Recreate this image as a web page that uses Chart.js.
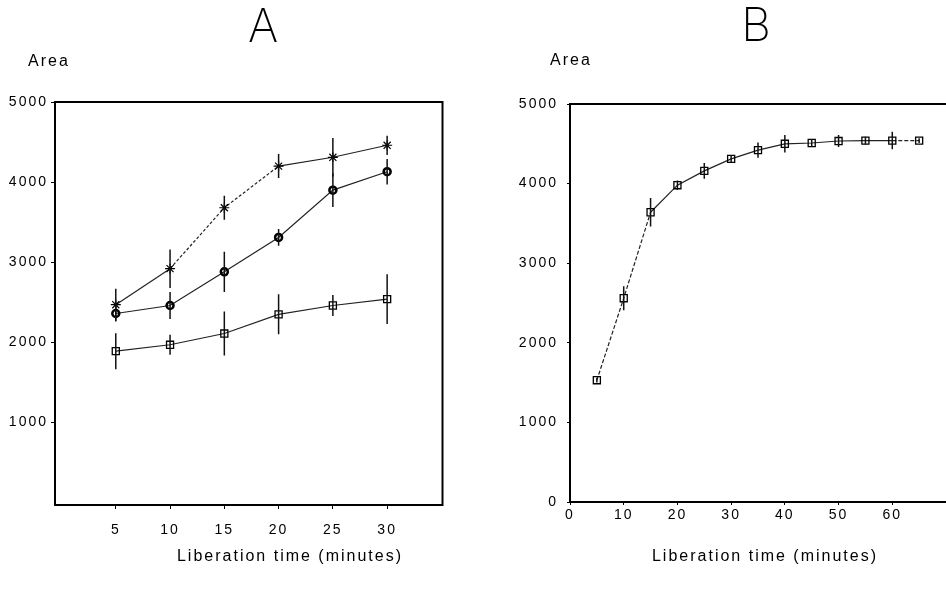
<!DOCTYPE html>
<html>
<head>
<meta charset="utf-8">
<script src="https://cdn.jsdelivr.net/npm/chart.js@4.4.1/dist/chart.umd.min.js"></script>
<style>
  body { margin: 0; background: #fff; }
  #wrap { position: relative; width: 946px; height: 594px; overflow: hidden; }
  #boxA { position: absolute; left: 0; top: 0; }
  #boxB { position: absolute; left: 480px; top: 0; }
</style>
</head>
<body>
<div id="wrap">
  <div id="boxA"><canvas id="chartA" width="480" height="594"></canvas></div>
  <div id="boxB"><canvas id="chartB" width="466" height="594"></canvas></div>
</div>
<script>
// panel A - three series with error bars
const timesA = [5, 10, 15, 20, 25, 30];
const starA = [2470, 2920, 3680, 4200, 4310, 4460];
const starErrA = [200, 240, 150, 150, 240, 120];
const circleA = [2360, 2460, 2880, 3310, 3900, 4130];
const circleErrA = [100, 170, 250, 105, 210, 160];
const squareA = [1890, 1970, 2110, 2350, 2460, 2540];
const squareErrA = [225, 125, 275, 250, 130, 310];
const xTicksA = [5, 10, 15, 20, 25, 30];
const yTicksA = [1000, 2000, 3000, 4000, 5000];

// panel B - one series
const timesB = [5, 10, 15, 20, 25, 30, 35, 40, 45, 50, 55, 60, 65];
const areaB = [1530, 2560, 3640, 3980, 4160, 4310, 4420, 4500, 4510, 4535, 4540, 4540, 4540];
const areaErrB = [30, 150, 180, 60, 100, 50, 95, 110, 50, 75, 50, 110, 30];
const xTicksB = [0, 10, 20, 30, 40, 50, 60];
const yTicksB = [0, 1000, 2000, 3000, 4000, 5000];

function points(xs, ys) {
  return xs.map((x, i) => ({ x: x, y: ys[i] }));
}

// vertical bars: low, high, then a gap so the line breaks
function errorBars(xs, ys, errs) {
  const out = [];
  xs.forEach((x, i) => {
    out.push({ x: x, y: ys[i] - errs[i] }, { x: x, y: ys[i] + errs[i] }, { x: x, y: null });
  });
  return out;
}

const font = { family: '"Liberation Sans", Arial, sans-serif', size: 14 };

const paper = {
  id: 'paper',
  beforeDraw(chart) {
    chart.ctx.letterSpacing = '2px';
  },
  beforeDatasetsDraw(chart, args, opts) {
    const { ctx, chartArea: a } = chart;
    ctx.save();
    ctx.strokeStyle = '#000';
    ctx.lineWidth = 2;
    ctx.beginPath();
    ctx.moveTo(a.left - 1, a.top);
    ctx.lineTo(a.right, a.top);
    if (opts.rightEdge) {
      ctx.moveTo(a.right, a.top - 1);
      ctx.lineTo(a.right, a.bottom + 1);
    }
    ctx.stroke();
    ctx.restore();
  },
  afterDraw(chart, args, opts) {
    const ctx = chart.ctx;
    ctx.save();
    ctx.fillStyle = '#000';
    ctx.letterSpacing = '0px';
    ctx.textAlign = 'center';
    ctx.textBaseline = 'middle';
    ctx.font = '200 46px Inter, "Liberation Sans", sans-serif';
    ctx.fillText(opts.panel, opts.panelX, opts.panelY);

    ctx.letterSpacing = '2px';
    ctx.font = '16px "Liberation Sans", Arial, sans-serif';
    ctx.textAlign = 'left';
    ctx.textBaseline = 'alphabetic';
    ctx.fillText(opts.yTitle, opts.yTitleX, opts.yTitleY);

    ctx.textAlign = 'center';
    ctx.textBaseline = 'middle';
    ctx.fillText(opts.xTitle, opts.xTitleX, opts.xTitleY);
    ctx.restore();
  }
};

const errStyle = {
  borderColor: '#111',
  borderWidth: 1.5,
  pointRadius: 0,
  spanGaps: false,
  order: 0
};

function seriesStyle(pointStyle, radius, bw) {
  return {
    borderColor: '#222',
    borderWidth: 1.2,
    pointStyle: pointStyle,
    pointRadius: radius,
    pointBorderWidth: bw,
    pointBorderColor: '#000',
    pointBackgroundColor: 'rgba(0,0,0,0)',
    order: 1
  };
}

function scaleOpts(min, max, tickList, size, tl, pad) {
  return {
    type: 'linear',
    min: min,
    max: max,
    afterBuildTicks: s => { s.ticks = tickList.map(v => ({ value: v })); },
    afterFit: s => { size(s); },
    ticks: { font: font, color: '#000', padding: pad, maxRotation: 0, autoSkip: false, callback: v => String(v) },
    grid: { drawOnChartArea: false, tickLength: tl, color: '#000', lineWidth: 1 },
    border: { color: '#000', width: 2 }
  };
}

new Chart(document.getElementById('chartA'), {
  type: 'line',
  data: {
    datasets: [
      Object.assign({ data: errorBars(timesA, starA, starErrA) }, errStyle),
      Object.assign({ data: errorBars(timesA, circleA, circleErrA) }, errStyle),
      Object.assign({ data: errorBars(timesA, squareA, squareErrA) }, errStyle),
      Object.assign({
        data: points(timesA, starA),
        segment: { borderDash: c => (c.p0DataIndex === 1 || c.p0DataIndex === 2) ? [3, 2] : undefined }
      }, seriesStyle('star', 5, 1.2)),
      Object.assign({ data: points(timesA, circleA) }, seriesStyle('circle', 3.5, 2.5)),
      Object.assign({ data: points(timesA, squareA) }, seriesStyle('rect', 5, 1.3))
    ]
  },
  options: {
    responsive: false,
    animation: false,
    devicePixelRatio: 1,
    layout: { autoPadding: false, padding: { left: 0, top: 102, right: 37.5, bottom: 0 } },
    plugins: {
      legend: { display: false },
      tooltip: { enabled: false },
      paper: {
        panel: 'A', panelX: 263, panelY: 28,
        yTitle: 'Area', yTitleX: 28, yTitleY: 66,
        xTitle: 'Liberation time (minutes)', xTitleX: 290, xTitleY: 557,
        rightEdge: true
      }
    },
    scales: {
      x: scaleOpts(-0.6, 35.1, xTicksA, s => { s.height = 89; }, 4, 13),
      y: scaleOpts(-30, 5000, yTicksA, s => { s.width = 55; }, 4, 3)
    }
  },
  plugins: [paper]
});

new Chart(document.getElementById('chartB'), {
  type: 'line',
  data: {
    datasets: [
      Object.assign({ data: errorBars(timesB, areaB, areaErrB) }, errStyle),
      Object.assign({
        data: points(timesB, areaB),
        segment: { borderDash: c => (c.p0DataIndex <= 1 || c.p0DataIndex === 11) ? [4, 2] : undefined }
      }, seriesStyle('rect', 5, 1.3))
    ]
  },
  options: {
    responsive: false,
    animation: false,
    devicePixelRatio: 1,
    layout: { autoPadding: false, padding: { left: 0, top: 104, right: 0, bottom: 0 } },
    plugins: {
      legend: { display: false },
      tooltip: { enabled: false },
      paper: {
        panel: 'B', panelX: 276, panelY: 27,
        yTitle: 'Area', yTitleX: 70, yTitleY: 65,
        xTitle: 'Liberation time (minutes)', xTitleX: 285, xTitleY: 557,
        rightEdge: false
      }
    },
    scales: {
      x: scaleOpts(0, 70, xTicksB, s => { s.height = 92; }, 3, 2),
      y: scaleOpts(0, 5000, yTicksB, s => { s.width = 90; }, 3, 9)
    }
  },
  plugins: [paper]
});
</script>
</body>
</html>
